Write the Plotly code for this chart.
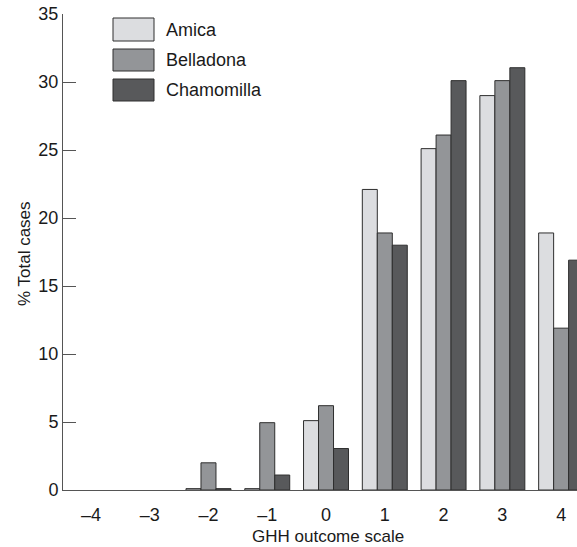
import plotly.graph_objects as go

categories = [-4, -3, -2, -1, 0, 1, 2, 3, 4]
tick_labels = ["–4", "–3", "–2", "–1", "0", "1", "2", "3", "4"]
series_names = ["Amica", "Belladona", "Chamomilla"]
# None = no bar drawn (0 %, nothing visible in the reference)
amica = [None, None, 0.1, 0.1, 5.1, 22.1, 25.1, 29.0, 18.9]
belladona = [None, None, 2.0, 4.95, 6.2, 18.9, 26.1, 30.1, 11.9]
chamomilla = [None, None, 0.1, 1.1, 3.05, 18.0, 30.1, 31.05, 16.9]
y_ticks = [0, 5, 10, 15, 20, 25, 30, 35]

colors = ["#dcdde0", "#939598", "#58595b"]
edge = "#2e2e2e"
axis_col = "#555555"
FONT = "Liberation Sans, Arial, Helvetica, sans-serif"
FS = 17

W, H = 577, 547
L, R, T, B = 63, 0, 14, 57

fig = go.Figure()
for name, vals, col in zip(series_names, [amica, belladona, chamomilla], colors):
    fig.add_trace(go.Bar(
        x=categories, y=vals, name=name,
        marker=dict(color=col, line=dict(color=edge, width=1)),
        showlegend=False,
    ))

pw = W - L - R
ph = H - T - B
def px2x(p):
    return (p - L) / pw
def py2y(p):
    return (H - B - p) / ph

legend_rows = [(18, 41), (49, 71), (79, 101)]
shapes = []
annotations = []
for (y0, y1), name, col in zip(legend_rows, series_names, colors):
    shapes.append(dict(
        type="rect", xref="paper", yref="paper",
        x0=px2x(113), x1=px2x(154), y0=py2y(y1), y1=py2y(y0),
        fillcolor=col, line=dict(color=edge, width=1), layer="above",
    ))
    annotations.append(dict(
        xref="paper", yref="paper", x=px2x(164), y=py2y((y0 + y1) / 2),
        text=name, showarrow=False, xanchor="left", yanchor="middle",
        font=dict(family=FONT, size=FS + 1, color="#1a1a1a"),
    ))

# axis titles
annotations.append(dict(
    xref="paper", yref="paper", x=px2x(328), y=py2y(536),
    text="GHH outcome scale", showarrow=False,
    xanchor="center", yanchor="middle",
    font=dict(family=FONT, size=FS, color="#1a1a1a"),
))
annotations.append(dict(
    xref="paper", yref="paper", x=px2x(24), y=py2y(254),
    text="% Total cases", showarrow=False, textangle=-90,
    xanchor="center", yanchor="middle",
    font=dict(family=FONT, size=FS, color="#1a1a1a"),
))

fig.update_layout(
    width=W, height=H,
    margin=dict(l=L, r=R, t=T, b=B, pad=0),
    paper_bgcolor="white", plot_bgcolor="white",
    barmode="group", bargap=0.235, bargroupgap=0,
    font=dict(family=FONT, size=FS, color="#1a1a1a"),
    shapes=shapes, annotations=annotations,
    xaxis=dict(
        range=[-4.475, 4.27], automargin=False,
        tickmode="array", tickvals=categories, ticktext=tick_labels,
        showgrid=False, zeroline=False,
        showline=True, linecolor=axis_col, linewidth=1,
        ticks="", tickfont=dict(size=FS + 1), ticklabelstandoff=8,
    ),
    yaxis=dict(
        range=[0, 35], automargin=False,
        tickmode="array", tickvals=y_ticks,
        showgrid=False, zeroline=False,
        showline=True, linecolor=axis_col, linewidth=1,
        ticks="inside", ticklen=13, tickcolor=axis_col, tickwidth=1,
        tickfont=dict(size=FS + 1),
    ),
)

fig.write_html(
    "out.html",
    config={"displayModeBar": False},
    post_script="document.body.style.margin='0';document.body.style.padding='0';",
)
